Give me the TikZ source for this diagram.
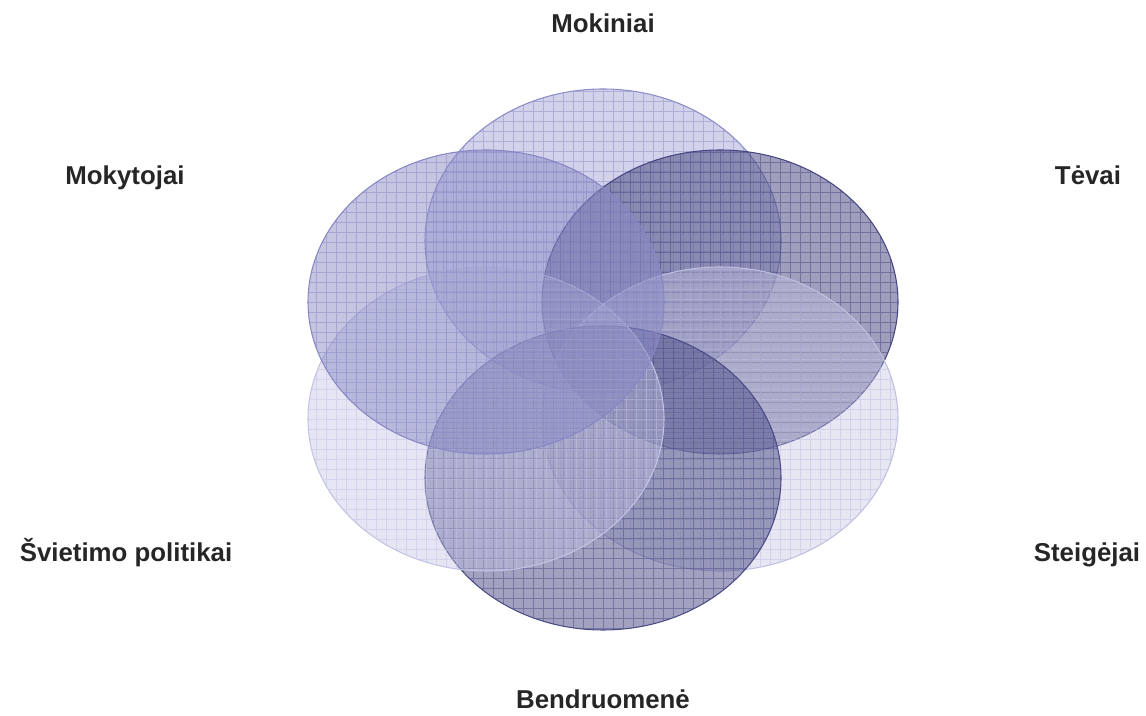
\documentclass[tikz,border=0pt]{standalone}
\usepackage{fontspec}
\setmainfont{Liberation Sans}
\usepackage{tikz}
\usetikzlibrary{shapes.geometric}
\definecolor{mokfill}{RGB}{155,155,208}
\definecolor{mokline}{RGB}{140,140,200}
\definecolor{mkyfill}{RGB}{140,140,198}
\definecolor{mkyline}{RGB}{135,135,198}
\definecolor{tevfill}{RGB}{80,80,135}
\definecolor{tevline}{RGB}{70,70,130}
\definecolor{stgfill}{RGB}{195,195,225}
\definecolor{stgline}{RGB}{190,190,225}
\definecolor{benfill}{RGB}{85,85,140}
\definecolor{benline}{RGB}{75,75,135}
\definecolor{svtfill}{RGB}{190,190,225}
\definecolor{svtline}{RGB}{195,195,228}

\begin{document}
\begin{tikzpicture}[x=1cm,y=1cm,oval/.style={ellipse,draw=#1line,line width=0.6pt,fill=#1fill,minimum width=71.2mm,minimum height=60.8mm,inner sep=0pt,path picture={\draw[#1line,draw opacity=0.5,line width=0.35pt,step=2mm] (path picture bounding box.south west) grid (path picture bounding box.north east);}},party/.style={anchor=base,font=\bfseries\fontsize{14.7}{17}\selectfont,text=black!85}]
\useasboundingbox (0,0) rectangle (22.92,14.32);
\coordinate (M) at (12.06,9.50);
\coordinate (K) at (9.72,8.28);
\coordinate (T) at (14.40,8.28);
\coordinate (P) at (9.72,5.94);
\coordinate (S) at (14.40,5.94);
\coordinate (B) at (12.06,4.76);
\node[oval=mok,fill opacity=0.45] (mokiniai) at (M) {};
\node[oval=tev,fill opacity=0.55] (tevai) at (T) {};
\node[oval=stg,fill opacity=0.4] (steigejai) at (S) {};
\node[oval=ben,fill opacity=0.55] (bendruomene) at (B) {};
\node[oval=svt,fill opacity=0.4] (svietimo) at (P) {};
\node[oval=mky,fill opacity=0.5] (mokytojai) at (K) {};
\node[party] (mokiniai-txt) at (12.06,13.66) {Mokiniai};
\node[party] (mokytojai-txt) at (2.50,10.62) {Mokytojai};
\node[party] (tevai-txt) at (21.76,10.62) {Tėvai};
\node[party] (svietimo-txt) at (2.52,3.08) {Švietimo politikai};
\node[party] (steigejai-txt) at (21.74,3.08) {Steigėjai};
\node[party] (bendruomene-txt) at (12.06,0.14) {Bendruomenė};
\end{tikzpicture}
\end{document}
